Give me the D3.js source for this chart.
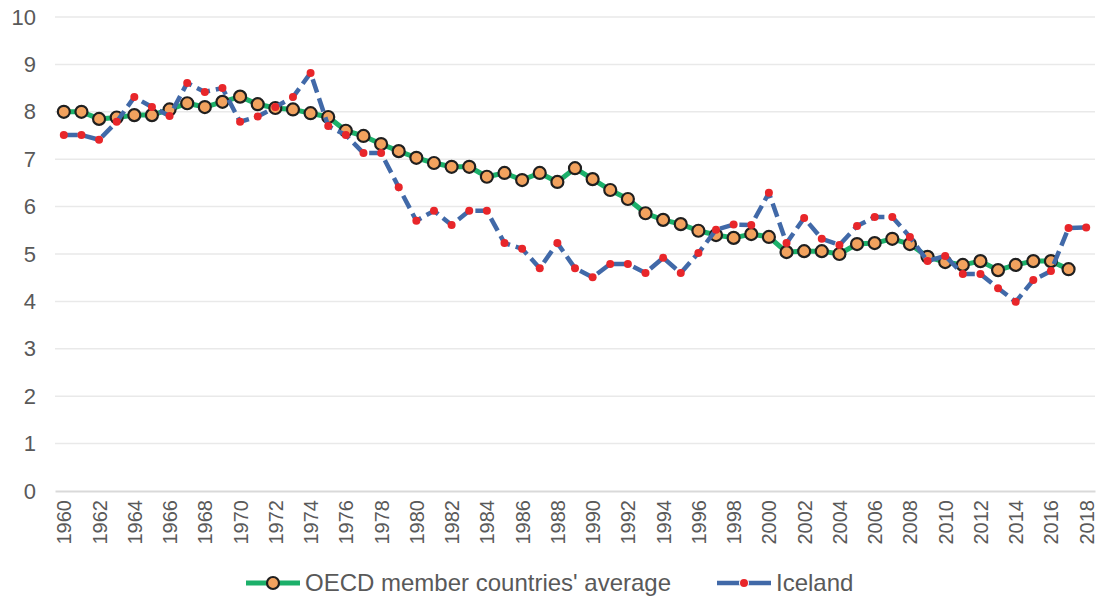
<!DOCTYPE html>
<html>
<head>
<meta charset="utf-8">
<script src="https://cdn.jsdelivr.net/npm/d3@7"></script>
<style>
  body { margin: 0; background: #fff; }
  text { font-family: "Liberation Sans", Arial, sans-serif; fill: #595959; }
</style>
</head>
<body>
<div id="chart"></div>
<script>
// years on the category axis
const years = d3.range(1960, 2019);

// OECD member countries' average, 1960-2017
const oecd = [8.0, 8.0, 7.85, 7.88, 7.93, 7.93, 8.05, 8.18, 8.1, 8.21,
  8.32, 8.16, 8.08, 8.05, 7.97, 7.89, 7.6, 7.49, 7.32, 7.17,
  7.03, 6.92, 6.84, 6.84, 6.63, 6.71, 6.56, 6.71, 6.52, 6.81,
  6.58, 6.35, 6.16, 5.86, 5.72, 5.63, 5.49, 5.4, 5.34, 5.42,
  5.36, 5.04, 5.06, 5.06, 5.0, 5.21, 5.23, 5.32, 5.21, 4.94,
  4.83, 4.77, 4.85, 4.66, 4.77, 4.85, 4.85, 4.68];

// Iceland, 1960-2018
const iceland = [7.51, 7.51, 7.41, 7.79, 8.31, 8.1, 7.91, 8.61, 8.42, 8.5,
  7.79, 7.9, 8.1, 8.31, 8.82, 7.7, 7.51, 7.13, 7.13, 6.41,
  5.7, 5.91, 5.61, 5.91, 5.91, 5.23, 5.11, 4.7, 5.23, 4.7,
  4.51, 4.79, 4.79, 4.6, 4.92, 4.6, 5.02, 5.51, 5.62, 5.61,
  6.29, 5.23, 5.76, 5.32, 5.19, 5.59, 5.78, 5.78, 5.36, 4.85,
  4.96, 4.58, 4.58, 4.28, 3.99, 4.45, 4.64, 5.55, 5.56];

const yTicks = d3.range(0, 11);
const seriesNames = ["OECD member countries' average", "Iceland"];

const width = 1104, height = 601;
const green = "#1cb06a", orange = "#f2a25e", blue = "#4169a8", red = "#e8262a";

const svg = d3.select("#chart").append("svg")
  .attr("width", width)
  .attr("height", height);

const x = d3.scalePoint()
  .domain(years)
  .range([55, 1095])
  .padding(0.5);

const y = d3.scaleLinear()
  .domain([0, 10])
  .range([491, 17]);

// horizontal grid lines
svg.append("g")
  .selectAll("line")
  .data(yTicks.filter(d => d > 0))
  .enter()
  .append("line")
  .attr("x1", 55).attr("x2", 1095)
  .attr("y1", d => y(d)).attr("y2", d => y(d))
  .attr("stroke", "#e9e9e9")
  .attr("stroke-width", 1.5);

// y labels
const yAxis = svg.append("g")
  .attr("transform", "translate(55,0)")
  .call(d3.axisLeft(y).tickValues(yTicks).tickSize(0).tickPadding(19));
yAxis.select(".domain").remove();
yAxis.selectAll("text")
  .style("font-size", "22px")
  .attr("fill", "#595959");

// x axis
const xAxis = svg.append("g")
  .attr("transform", "translate(0," + y(0) + ")")
  .call(d3.axisBottom(x).tickValues(years.filter(d => d % 2 === 0)).tickSize(0));
xAxis.select(".domain")
  .attr("stroke", "#d9d9d9")
  .attr("stroke-width", 2);
xAxis.selectAll("text")
  .style("font-size", "20px")
  .attr("fill", "#595959")
  .attr("text-anchor", "end")
  .attr("transform", "rotate(-90)")
  .attr("x", -9)
  .attr("y", 0)
  .attr("dy", "0.35em");

const line = d3.line()
  .x((d, i) => x(years[i]))
  .y(d => y(d));

// OECD line
svg.append("path")
  .datum(oecd)
  .attr("d", line)
  .attr("fill", "none")
  .attr("stroke", green)
  .attr("stroke-width", 5)
  .attr("stroke-linejoin", "round");

svg.append("g")
  .selectAll("circle")
  .data(oecd)
  .enter()
  .append("circle")
  .attr("cx", (d, i) => x(years[i]))
  .attr("cy", d => y(d))
  .attr("r", 6)
  .attr("fill", orange)
  .attr("stroke", "#1f1f1f")
  .attr("stroke-width", 2.2);

// Iceland line
svg.append("path")
  .datum(iceland)
  .attr("d", line)
  .attr("fill", "none")
  .attr("stroke", blue)
  .attr("stroke-width", 4.5)
  .attr("stroke-dasharray", "14,6")
  .attr("stroke-linejoin", "round");

svg.append("g")
  .selectAll("circle")
  .data(iceland)
  .enter()
  .append("circle")
  .attr("cx", (d, i) => x(years[i]))
  .attr("cy", d => y(d))
  .attr("r", 4)
  .attr("fill", red);

// legend
const legend = svg.append("g").attr("transform", "translate(0,583)");

const lg1 = legend.append("g").attr("transform", "translate(246,0)");
lg1.append("line").attr("x1", 0).attr("x2", 54)
  .attr("stroke", green).attr("stroke-width", 5);
lg1.append("circle").attr("cx", 27).attr("r", 6)
  .attr("fill", orange).attr("stroke", "#1f1f1f").attr("stroke-width", 2.2);
lg1.append("text").attr("x", 59).attr("dy", "0.35em")
  .style("font-size", "24px").text(seriesNames[0]);

const lg2 = legend.append("g").attr("transform", "translate(717,0)");
lg2.append("line").attr("x1", 0).attr("x2", 54)
  .attr("stroke", blue).attr("stroke-width", 4.5);
lg2.append("circle").attr("cx", 27).attr("r", 5).attr("fill", "#fff");
lg2.append("circle").attr("cx", 27).attr("r", 4).attr("fill", red);
lg2.append("text").attr("x", 59).attr("dy", "0.35em")
  .style("font-size", "24px").text(seriesNames[1]);
</script>
</body>
</html>
